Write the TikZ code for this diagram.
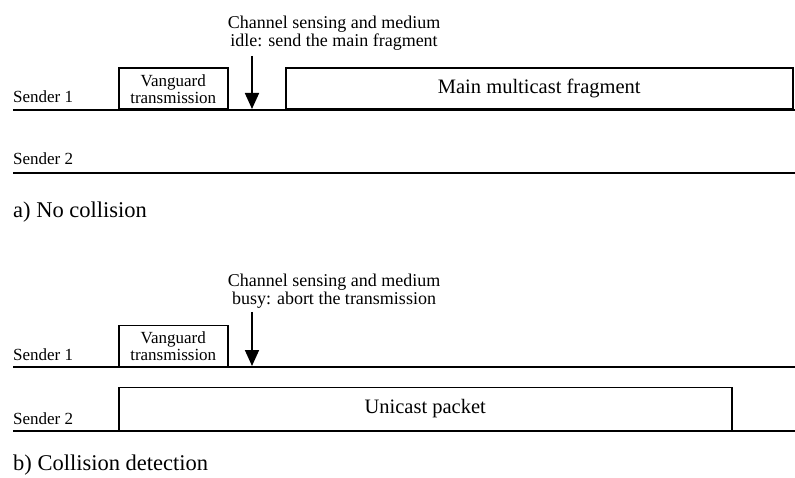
\documentclass[tikz,border=0pt]{standalone}
\usepackage{fontspec}
\setmainfont{Liberation Serif}
\usetikzlibrary{arrows.meta}
\begin{document}
\begin{tikzpicture}[x=1pt,y=-1pt,
  timeline/.style={line width=1.5pt},
  slotbox/.style={draw,line width=1.5pt,inner sep=0pt,anchor=south west},
  sender/.style={inner sep=0pt,anchor=base west,font=\fontsize{17}{19}\selectfont},
  annot/.style={inner sep=0pt,anchor=base,align=center,font=\fontsize{18}{18}\selectfont},
  vtext/.style={font=\fontsize{17}{19}\selectfont,align=center},
  btext/.style={font=\fontsize{20.5}{24}\selectfont},
  caption/.style={inner sep=0pt,anchor=base west,font=\fontsize{22.5}{26}\selectfont},
  sensearrow/.style={line width=1.8pt,-{Triangle[width=14pt,length=16pt]}}]
\useasboundingbox (0,0) rectangle (795,478);
% ---------- a) ----------
\coordinate (a1l) at (13,110);
\coordinate (a1r) at (795,110);
\coordinate (a2l) at (13,173);
\coordinate (a2r) at (795,173);
\draw[timeline] (a1l) -- (a1r);
\draw[timeline] (a2l) -- (a2r);
\node[sender] (sa1) at (13,103) {Sender 1};
\node[sender] (sa2) at (13,165) {Sender 2};
\node[slotbox,minimum width=109pt,minimum height=41pt] (va) at (118,110) {};
\node[vtext] (vat) at (va.center) {Vanguard\\[-2pt]transmission};
\node[slotbox,minimum width=507pt,minimum height=41pt] (ma) at (285,110) {};
\node[btext] (mat) at (ma.center) {Main multicast fragment};
\node[annot] (anna) at (334,47) {Channel sensing and medium\\idle: send the main fragment};
\coordinate (arra1) at (252,56);
\coordinate (arra2) at (252,109);
\draw[sensearrow] (arra1) -- (arra2);
\node[caption] (capa) at (13,218) {a) No collision};
% ---------- b) ----------
\coordinate (b1l) at (13,367);
\coordinate (b1r) at (795,367);
\coordinate (b2l) at (13,431);
\coordinate (b2r) at (795,431);
\draw[timeline] (b1l) -- (b1r);
\draw[timeline] (b2l) -- (b2r);
\node[sender] (sb1) at (13,360) {Sender 1};
\node[sender] (sb2) at (13,424) {Sender 2};
\node[slotbox,minimum width=109pt,minimum height=41pt] (vb) at (118,367) {};
\node[vtext] (vbt) at (vb.center) {Vanguard\\[-2pt]transmission};
\node[slotbox,minimum width=613pt,minimum height=43pt] (ub) at (118,431) {};
\node[btext] (ubt) at (ub.center) {Unicast packet};
\node[annot] (annb) at (334,305) {Channel sensing and medium\\busy: abort the transmission};
\coordinate (arrb1) at (252,312);
\coordinate (arrb2) at (252,366);
\draw[sensearrow] (arrb1) -- (arrb2);
\node[caption] (capb) at (13,470) {b) Collision detection};
\end{tikzpicture}
\end{document}
